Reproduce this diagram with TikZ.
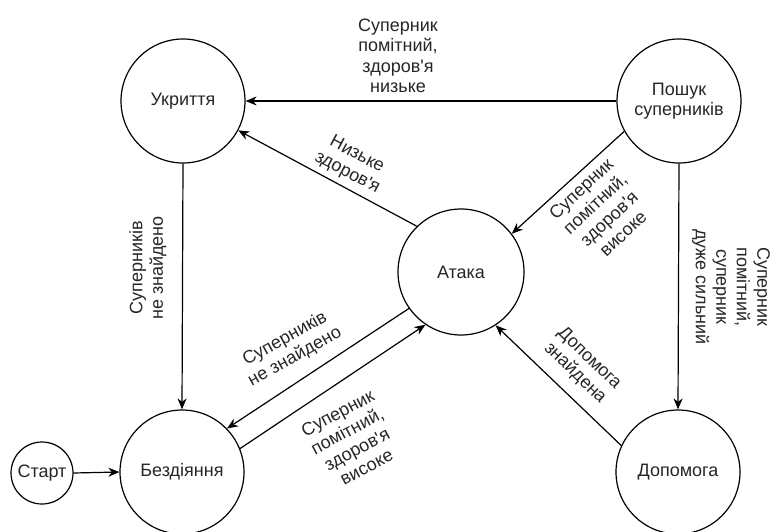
\documentclass[tikz,border=0pt]{standalone}
\usepackage{fontspec}
\setmainfont{Liberation Sans}[Ligatures=TeXOff]
\usetikzlibrary{arrows.meta}
\begin{document}
\begin{tikzpicture}[x=1pt,y=-1pt,
  st/.style={draw, circle, line width=1.2pt, minimum size=124pt, inner sep=0pt,
    font=\fontsize{18}{20.5}\selectfont, text=black!85, align=center},
  lbl/.style={font=\fontsize{18}{20.5}\selectfont, text=black!85, align=center, inner sep=0pt},
  arr/.style={line width=1.2pt, -{Stealth[length=11pt,width=9pt,inset=3.5pt]}}]
\useasboundingbox (0,0) rectangle (774,532);
\node[st] (uk) at (183,101) {Укриття};
\node[st] (posh) at (679,101) {Пошук\\суперників};
\node[st, minimum size=126pt] (atk) at (461,272) {Атака};
\node[st] (bez) at (182,472) {Бездіяння};
\node[st] (dop) at (678,472) {Допомога};
\node[st, minimum size=62pt] (start) at (42,473) {Старт};

\draw[arr] (posh.west) -- (uk.east);
\draw[arr] (posh.209) -- (atk.37);
\draw[arr] (atk.134) -- (uk.-28);
\draw[arr] (uk.south) -- (bez.north);
\draw[arr] (posh.south) -- (dop.north);
\draw[arr] (dop.155) -- (atk.-57);
\draw[arr] (atk.215) -- (bez.44);
\draw[arr] (bez.22) -- (atk.236);
\draw[arr] (start.east) -- (bez.west);

\node[lbl] (l1) at (398,56) {Суперник\\помітний,\\здоров'я\\низьке};
\node[lbl, rotate=-28] (l2) at (352,164) {Низьке\\здоров'я};
\node[lbl, rotate=43] (l3) at (602,211) {Суперник\\помітний,\\здоров'я\\високе};
\node[lbl, rotate=90] (l4) at (148,268) {Суперників\\не знайдено};
\node[lbl, rotate=-90] (l5) at (731,287) {Суперник\\помітний,\\суперник\\дуже сильний};
\node[lbl, rotate=-44] (l6) at (582,366) {Допомога\\знайдена};
\node[lbl, rotate=29] (l7) at (290,348) {Суперників\\не знайдено};
\node[lbl, rotate=28] (l8) at (352,440) {Суперник\\помітний,\\здоров'я\\високе};
\end{tikzpicture}
\end{document}
